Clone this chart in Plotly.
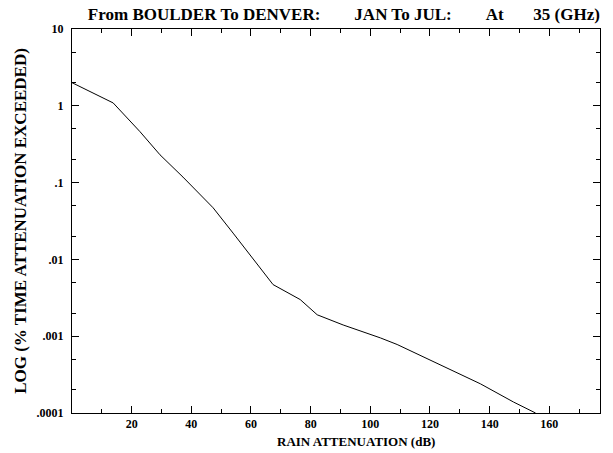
import plotly.graph_objects as go

# Data
attenuation_db = [0, 13.8, 22.8, 29.5, 37.2, 43.9, 47.3, 54.0, 63.0, 67.4, 76.5, 82.2,
                  90.9, 99.0, 103.4, 109.0, 114.4, 125.8, 136.9, 148.0, 155.4]
pct_time = [2.0, 1.09, 0.46, 0.23, 0.118, 0.065, 0.047, 0.022, 0.0079, 0.0047, 0.0030,
            0.0019, 0.0014, 0.0011, 0.00095, 0.00078, 0.00062, 0.00039, 0.00024,
            0.000139, 0.0001]

x_tick_vals = [20, 40, 60, 80, 100, 120, 140, 160]
y_tick_vals = [10, 1, 0.1, 0.01, 0.001, 0.0001]
y_tick_text = ["10", "1", ".1", ".01", ".001", ".0001"]

SP = "&nbsp;"
title_text = ("From BOULDER To DENVER:" + SP * 8 + "JAN To JUL:" + SP * 8 +
              "At" + SP * 7 + "35 (GHz)")

FONT = "Liberation Serif"

fig = go.Figure()
fig.add_trace(go.Scatter(x=attenuation_db, y=pct_time, mode="lines",
                         line=dict(color="black", width=1), showlegend=False))

fig.update_layout(
    width=613, height=453,
    margin=dict(l=72, r=13, t=29, b=40),
    paper_bgcolor="white", plot_bgcolor="white",
    font=dict(family=FONT, color="black", size=12),
    title=dict(text=title_text, x=0.561, xanchor="center",
               yref="container", y=1 - 14 / 453, yanchor="middle",
               font=dict(family=FONT, size=17, weight="bold", color="black")),
)
fig.add_annotation(text="RAIN ATTENUATION (dB)", xref="paper", yref="paper",
                   x=(356 - 72) / 528, y=-0.073, xanchor="center", yanchor="middle",
                   showarrow=False, font=dict(family=FONT, size=13, weight="bold"))
fig.update_xaxes(
    range=[0, 177], tickvals=x_tick_vals, showgrid=False, zeroline=False,
    showline=True, linecolor="black", linewidth=1, mirror="ticks",
    ticks="inside", ticklen=7, tickcolor="black",
    minor=dict(ticks="inside", ticklen=4, dtick=10, tickcolor="black"),
    tickfont=dict(family=FONT, size=12, weight="bold"),
)
fig.update_yaxes(
    type="log", range=[-4, 1], tickvals=y_tick_vals, ticktext=y_tick_text,
    showgrid=False, zeroline=False,
    showline=True, linecolor="black", linewidth=1, mirror="ticks",
    ticks="inside", ticklen=7, tickcolor="black",
    minor=dict(ticks="inside", ticklen=4, tickcolor="black"),
    ticklabelstandoff=5,
    tickfont=dict(family=FONT, size=12, weight="bold"),
    title=dict(text="LOG (% TIME ATTENUATION EXCEEDED)", standoff=5,
               font=dict(family=FONT, size=17, weight="bold")),
)

fig.write_html("out.html")
